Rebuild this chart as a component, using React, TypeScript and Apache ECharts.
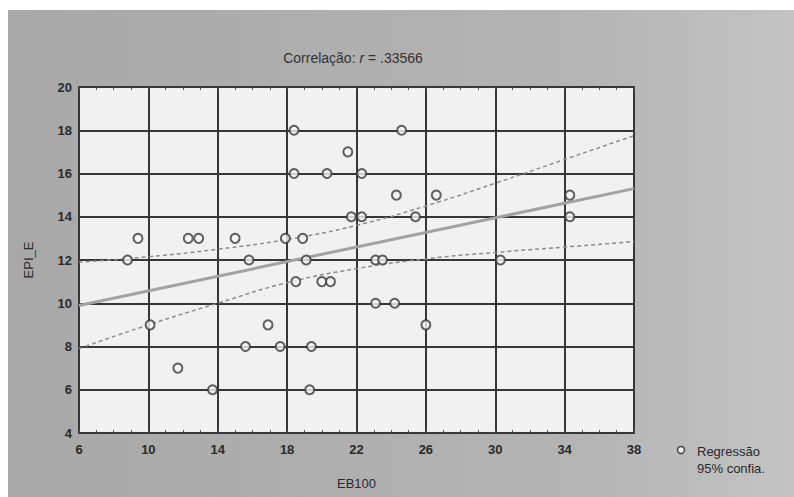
import React, { useEffect, useRef } from "react";
import * as echarts from "echarts";

const titleText = "Correlação: ";
const rValue = " = .33566";
const xName = "EB100";
const yName = "EPI_E";
const legendLines = ["Regressão", "95% confia."];

const xMin = 6;
const xMax = 38;
const xStep = 4;
const yMin = 4;
const yMax = 20;
const yStep = 2;

// observed points [EB100, EPI_E]
const points: [number, number][] = [
  [18.4, 18], [24.6, 18], [21.5, 17], [18.4, 16], [20.3, 16], [22.3, 16],
  [24.3, 15], [26.6, 15], [34.3, 15],
  [21.7, 14], [22.3, 14], [25.4, 14], [34.3, 14],
  [9.4, 13], [12.3, 13], [12.9, 13], [15.0, 13], [17.9, 13], [18.9, 13],
  [8.8, 12], [15.8, 12], [19.1, 12], [23.1, 12], [23.5, 12], [30.3, 12],
  [18.5, 11], [20.0, 11], [20.5, 11],
  [23.1, 10], [24.2, 10],
  [10.1, 9], [16.9, 9], [26.0, 9],
  [15.6, 8], [17.6, 8], [19.4, 8],
  [11.7, 7],
  [13.7, 6], [19.3, 6],
];

// regression line end points
const regX = [6, 38];
const regY = [9.9, 15.3];

// 95% confidence band
const bandX = [6, 10, 14, 18, 22, 26, 30, 34, 38];
const bandUpper = [11.9, 12.15, 12.5, 12.95, 13.6, 14.5, 15.55, 16.65, 17.75];
const bandLower = [7.9, 9.0, 10.0, 10.95, 11.6, 12.05, 12.35, 12.6, 12.85];

export default function App() {
  const ref = useRef<HTMLDivElement>(null);
  useEffect(() => {
    if (!ref.current) return;
    const chart = echarts.init(ref.current, undefined, { renderer: "svg" });
    const font = "Liberation Sans, Arial, sans-serif";
    const dark = "#2a2a2a";
    const gridL = 79, gridR = 634, gridT = 87, gridB = 433;
    const minor = { show: true, splitNumber: 4, length: 3, lineStyle: { color: "#555", width: 1 } };
    chart.setOption({
      animation: false,
      backgroundColor: "#ffffff",
      textStyle: { fontFamily: font },
      grid: {
        left: gridL,
        top: gridT,
        width: gridR - gridL,
        height: gridB - gridT,
        show: true,
        backgroundColor: "#f1f1f1",
        borderColor: "#333",
        borderWidth: 2,
      },
      xAxis: [
        {
          type: "value",
          min: xMin,
          max: xMax,
          interval: xStep,
          name: xName,
          nameLocation: "middle",
          nameGap: 44,
          nameTextStyle: { color: dark, fontSize: 13, fontFamily: font },
          axisLine: { show: false },
          axisTick: { show: true, inside: true, length: 3, lineStyle: { color: "#555" } },
          minorTick: minor,
          axisLabel: { color: dark, fontSize: 13, margin: 10, fontFamily: font, fontWeight: "bold" },
          splitLine: { show: true, lineStyle: { color: "#363636", width: 2 } },
        },
        {
          type: "value",
          position: "top",
          min: xMin,
          max: xMax,
          interval: xStep,
          axisLine: { show: false },
          axisTick: { show: true, inside: true, length: 3, lineStyle: { color: "#555" } },
          minorTick: minor,
          axisLabel: { show: false },
          splitLine: { show: false },
        },
      ],
      yAxis: {
        type: "value",
        min: yMin,
        max: yMax,
        interval: yStep,
        name: yName,
        nameLocation: "middle",
        nameGap: 44,
        nameTextStyle: { color: dark, fontSize: 13, fontFamily: font },
        axisLine: { show: false },
        axisTick: { show: false },
        axisLabel: { color: dark, fontSize: 13, margin: 7, fontFamily: font, fontWeight: "bold" },
        splitLine: { show: true, lineStyle: { color: "#363636", width: 2 } },
      },
      graphic: [
        {
          type: "rect",
          z: -10,
          silent: true,
          shape: { x: 8, y: 10, width: 794 - 8, height: 497 - 10 },
          style: {
            fill: new echarts.graphic.LinearGradient(0, 0, 1, 0, [
              { offset: 0, color: "#a8a8a8" },
              { offset: 0.7, color: "#b3b3b3" },
              { offset: 1, color: "#c3c3c3" },
            ]),
          },
        },
        {
          type: "text",
          x: 353,
          y: 58,
          style: {
            text: "{a|" + titleText + "}{i|r}{a|" + rValue + "}",
            align: "center",
            verticalAlign: "middle",
            rich: {
              a: { fontSize: 14, fill: "#333", fontFamily: font },
              i: { fontSize: 14, fill: "#333", fontFamily: font, fontStyle: "italic" },
            },
          },
        },
        {
          type: "circle",
          shape: { cx: 681, cy: 450, r: 3.5 },
          style: { fill: "#f1f1f1", stroke: "#444", lineWidth: 1.5 },
        },
        {
          type: "text",
          x: 697,
          y: 451,
          style: { text: legendLines[0], fontSize: 13, fill: dark, fontFamily: font, verticalAlign: "middle" },
        },
        {
          type: "text",
          x: 697,
          y: 468,
          style: { text: legendLines[1], fontSize: 13, fill: dark, fontFamily: font, verticalAlign: "middle" },
        },
      ],
      series: [
        {
          type: "line",
          name: "band-upper",
          data: bandX.map((x, i) => [x, bandUpper[i]]),
          smooth: true,
          symbol: "none",
          lineStyle: { color: "#8c8c8c", width: 1.5, type: [4, 3] },
          z: 3,
        },
        {
          type: "line",
          name: "band-lower",
          data: bandX.map((x, i) => [x, bandLower[i]]),
          smooth: true,
          symbol: "none",
          lineStyle: { color: "#8c8c8c", width: 1.5, type: [4, 3] },
          z: 3,
        },
        {
          type: "line",
          name: "regression",
          data: regX.map((x, i) => [x, regY[i]]),
          symbol: "none",
          lineStyle: { color: "#a2a2a2", width: 3 },
          z: 4,
        },
        {
          type: "scatter",
          name: "points",
          data: points,
          symbol: "circle",
          symbolSize: 9,
          itemStyle: { color: "#f4f4f4", borderColor: "#3a3a3a", borderWidth: 2 },
          z: 5,
        },
      ],
    });
    return () => chart.dispose();
  }, []);
  return (
    <div
      ref={ref}
      style={{ position: "fixed", left: 0, top: 0, width: 794, height: 497 }}
    />
  );
}
